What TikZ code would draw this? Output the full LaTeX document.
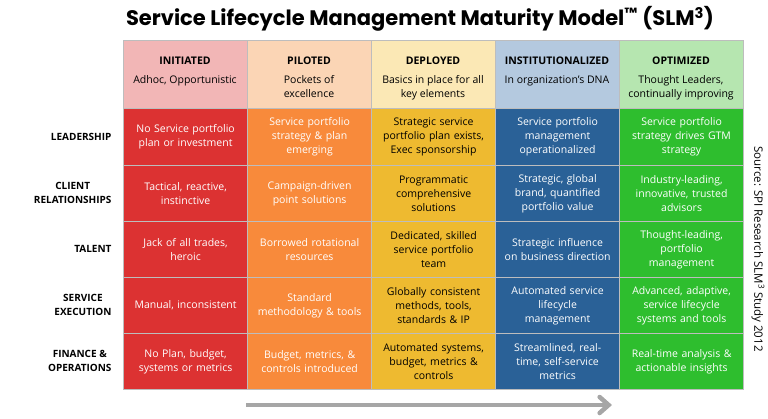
\documentclass[tikz,border=0pt]{standalone}
\usepackage{fontspec}
\usetikzlibrary{arrows.meta}
\setmainfont{Open Sans}
\newfontfamily\titlefont{Poppins}
\definecolor{cR}{HTML}{DC3232}\definecolor{cO}{HTML}{F88A3B}\definecolor{cY}{HTML}{EEBA30}
\definecolor{cB}{HTML}{2A6197}\definecolor{cG}{HTML}{2EBE2E}
\definecolor{hR}{HTML}{F2B6B6}\definecolor{hO}{HTML}{FBD5B5}\definecolor{hY}{HTML}{FBE8B5}
\definecolor{hB}{HTML}{B4C9DF}\definecolor{hG}{HTML}{B6E6B0}
\definecolor{grid}{HTML}{BDBDBD}
\begin{document}
\begin{tikzpicture}[x=1pt,y=-1pt,
 cell/.style={draw=grid,line width=1.2pt,minimum width=124pt,inner sep=0pt,anchor=north west,align=center,font=\fontsize{10.5}{14}\selectfont},
 rowlab/.style={anchor=east,align=center,font=\fontsize{10}{14}\selectfont\bfseries},
 hd/.style={font=\fontsize{10.5}{14}\selectfont\bfseries}]
\useasboundingbox (0,0) rectangle (768,418);
\node[font=\titlefont\fontsize{21}{24}\selectfont\bfseries] (title) at (420,19) {Service Lifecycle Management Maturity Model\textsuperscript{™} (SLM\textsuperscript{3})};
\def\cols{{123,247,371,495,619}}
\foreach \i/\hc/\n/\d in {0/hR/INITIATED/{Adhoc, Opportunistic},1/hO/PILOTED/{Pockets of\\excellence},2/hY/DEPLOYED/{Basics in place for all\\key elements},3/hB/INSTITUTIONALIZED/{In organization's DNA},4/hG/OPTIMIZED/{Thought Leaders,\\continually improving}}{
 \pgfmathsetmacro\xx{\cols[\i]}
 \node[cell,fill=\hc,minimum height=68pt] (h\i) at (\xx,40) {};
 \node[hd] (hn\i) at (\xx+62,61) {\n};
 \node[align=center,font=\fontsize{10.5}{14}\selectfont,anchor=north] (hs\i) at (\xx+62,72) {\d};
}
\foreach \r/\y/\lab/\a/\b/\c/\dd/\e in {
 0/108/LEADERSHIP/{No Service portfolio\\plan or investment}/{Service portfolio\\strategy \& plan\\emerging}/{Strategic service\\portfolio plan exists,\\Exec sponsorship}/{Service portfolio\\management\\operationalized}/{Service portfolio\\strategy drives GTM\\strategy},
 1/165/{CLIENT\\RELATIONSHIPS}/{Tactical, reactive,\\instinctive}/{Campaign-driven\\point solutions}/{Programmatic\\comprehensive\\solutions}/{Strategic, global\\brand, quantified\\portfolio value}/{Industry-leading,\\innovative, trusted\\advisors},
 2/221/TALENT/{Jack of all trades,\\heroic}/{Borrowed rotational\\resources}/{Dedicated, skilled\\service portfolio\\team}/{Strategic influence\\on business direction}/{Thought-leading,\\portfolio\\management},
 3/277/{SERVICE\\EXECUTION}/{Manual, inconsistent}/{Standard\\methodology \& tools}/{Globally consistent\\methods, tools,\\standards \& IP}/{Automated service\\lifecycle\\management}/{Advanced, adaptive,\\service lifecycle\\systems and tools},
 4/333/{FINANCE \&\\OPERATIONS}/{No Plan, budget,\\systems or metrics}/{Budget, metrics, \&\\controls introduced}/{Automated systems,\\budget, metrics \&\\controls}/{Streamlined, real-\\time, self-service\\metrics}/{Real-time analysis \&\\actionable insights}}{
 \pgfmathsetmacro\hh{\r==0 ? 57 : 56}
 \node[cell,fill=cR,text=white,minimum height=\hh pt,text width=120pt] (c\r a) at (123,\y) {\a};
 \node[cell,fill=cO,text=white,minimum height=\hh pt,text width=120pt] (c\r b) at (247,\y) {\b};
 \node[cell,fill=cY,text=black,minimum height=\hh pt,text width=120pt] (c\r c) at (371,\y) {\c};
 \node[cell,fill=cB,text=white,minimum height=\hh pt,text width=120pt] (c\r d) at (495,\y) {\dd};
 \node[cell,fill=cG,text=white,minimum height=\hh pt,text width=120pt] (c\r e) at (619,\y) {\e};
 \node[rowlab] (l\r) at (115,\y+\hh/2) {\lab};
}
\node[rotate=-90,font=\fontsize{11.5}{14}\selectfont] (src) at (758,249) {Source: SPI Research SLM\textsuperscript{3} Study 2012};
\coordinate (as) at (246,405); \coordinate (ae) at (612,405);
\draw[color=gray!70,line width=4.5pt,-{Straight Barb[length=9pt,width=16pt,line cap=round]}] (as) -- (ae);
\end{tikzpicture}
\end{document}
